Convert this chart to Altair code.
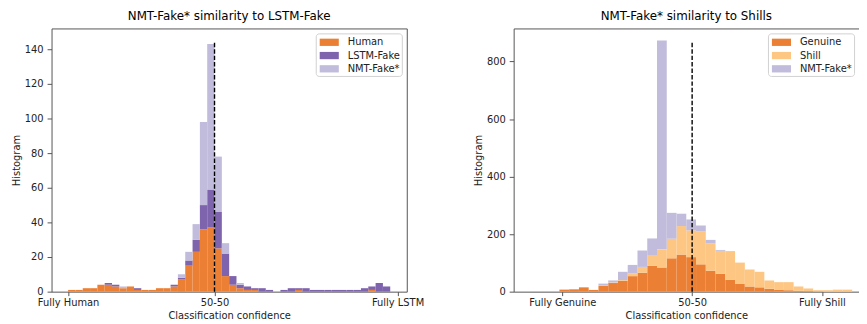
import altair as alt
import pandas as pd

FONT = "DejaVu Sans"

# ---------------- Left panel data (stacked histogram, 44 bins) ----------------
left_series = ["Human", "LSTM-Fake", "NMT-Fake*"]
left_colors = ["#EB8034", "#7E63AD", "#C1BCDB"]
left_bins = list(range(44))  # bin index (left edge); each bin is 1 unit wide
left_human = [1, 1, 2, 2, 4, 4, 3, 2, 3, 1, 1, 1, 2, 2, 3, 7, 15, 23, 36, 37, 25, 9,
              4, 2, 1, 1, 0, 0, 0, 0, 0, 1, 0, 0, 0, 0, 0, 0, 0, 0, 0, 1, 0, 0]
left_lstm = [0, 0, 0, 0, 0, 1, 1, 0, 0, 1, 0, 0, 0, 0, 1, 1, 3, 7, 14, 22, 21, 13,
             5, 2, 2, 1, 2, 1, 0, 1, 2, 1, 2, 1, 1, 1, 1, 1, 1, 1, 2, 2, 5, 3]
left_nmt = [0, 0, 0, 0, 0, 0, 0, 1, 0, 0, 0, 0, 0, 0, 0, 2, 5, 9, 48, 84, 32, 6,
            0, 1, 0, 0, 0, 0, 0, 0, 0, 0, 0, 0, 0, 0, 0, 0, 0, 0, 0, 0, 0, 0]
left_tick_pos = [0, 20, 45]
left_tick_labels = ["Fully Human", "50-50", "Fully LSTM"]
left_x_domain = [-2.26, 46.26]
left_y_domain = [0, 152]
left_y_ticks = [0, 20, 40, 60, 80, 100, 120, 140]
left_midline = {"x": 20, "y0": 0, "y1": 144.5}

# ---------------- Right panel data (stacked histogram, 30 bins) ----------------
right_series = ["Genuine", "Shill", "NMT-Fake*"]
right_colors = ["#EB8034", "#FDC682", "#C1BCDB"]
right_bins = list(range(30))
right_genuine = [7, 8, 15, 6, 21, 30, 37, 54, 66, 90, 84, 116, 129, 120, 95, 73, 62, 41,
                 28, 18, 15, 10, 7, 5, 3, 2, 1, 0, 0, 0]
right_shill = [1, 1, 0, 0, 2, 2, 3, 10, 20, 35, 63, 68, 99, 93, 114, 95, 80, 100,
               73, 59, 54, 29, 26, 28, 15, 9, 4, 5, 7, 7]
right_nmt = [0, 0, 0, 0, 5, 7, 29, 29, 57, 60, 726, 90, 43, 38, 21, 12, 3, 0,
             0, 0, 0, 0, 0, 0, 0, 0, 0, 0, 0, 0]
right_tick_pos = [0.3, 13.6, 26.9]
right_tick_labels = ["Fully Genuine", "50-50", "Fully Shill"]
right_x_domain = [-4.69, 30.7]
right_y_domain = [0, 915]
right_y_ticks = [0, 200, 400, 600, 800]
right_midline = {"x": 13.6, "y0": 0, "y1": 866}


def make_df(bins, series, values):
    rows = []
    for k, (name, vals) in enumerate(zip(series, values)):
        for b, v in zip(bins, vals):
            rows.append({"start": b, "end": b + 1, "series": name, "count": v, "k": k})
    return pd.DataFrame(rows)


def label_expr(pos, labels):
    expr = "''"
    for p, l in reversed(list(zip(pos, labels))):
        expr = f"abs(datum.value - {p}) < 0.01 ? '{l}' : ({expr})"
    return expr


SYMBOL = "M-0.667,-0.49H1.906V0.49H-0.667Z"


def panel(df, series, colors, tick_pos, tick_labels, x_domain, y_domain, y_ticks,
          midline, width, height, title, right_spine):
    xscale = alt.Scale(domain=x_domain, nice=False, zero=False)
    yscale = alt.Scale(domain=y_domain, nice=False, zero=True)
    bars = alt.Chart(df).transform_stack(
        stack="count", as_=["y0", "y1"], groupby=["start"],
        sort=[alt.SortField("k", order="ascending")],
    ).mark_bar(strokeWidth=0, opacity=1).encode(
        x=alt.X("start:Q", scale=xscale,
                axis=alt.Axis(values=tick_pos, labelExpr=label_expr(tick_pos, tick_labels),
                              title="Classification confidence", labelFlush=False,
                              labelOverlap=False, orient="bottom", labelPadding=2)),
        x2="end:Q",
        y=alt.Y("y0:Q", scale=yscale,
                axis=alt.Axis(values=y_ticks, title="Histogram", orient="left",
                              labelPadding=4, tickSize=4.5)),
        y2="y1:Q",
        color=alt.Color("series:N",
                        scale=alt.Scale(domain=series, range=colors),
                        legend=alt.Legend(title=None, orient="top-right", offset=5)),
    )
    mdf = pd.DataFrame([midline])
    if right_spine:
        yax = alt.Axis(orient="right", labels=False, ticks=False, title=None, domain=True)
    else:
        yax = None
    rule = alt.Chart(mdf).mark_rule(color="black", strokeDash=[4.5, 2], strokeWidth=1.4).encode(
        x=alt.X("x:Q", scale=xscale,
                axis=alt.Axis(orient="top", labels=False, ticks=False, title=None, domain=True)),
        y=alt.Y("y0:Q", scale=yscale, axis=yax),
        y2="y1:Q",
    )
    return alt.layer(bars, rule).resolve_axis(x="independent", y="independent").properties(
        width=width, height=height,
        title=alt.TitleParams(title, font=FONT, fontSize=12, fontWeight="normal",
                              color="black", anchor="middle", offset=6),
    )


left = panel(make_df(left_bins, left_series, [left_human, left_lstm, left_nmt]),
             left_series, left_colors, left_tick_pos, left_tick_labels,
             left_x_domain, left_y_domain, left_y_ticks, left_midline,
             359, 266, "NMT-Fake* similarity to LSTM-Fake", True)
right = panel(make_df(right_bins, right_series, [right_genuine, right_shill, right_nmt]),
              right_series, right_colors, right_tick_pos, right_tick_labels,
              right_x_domain, right_y_domain, right_y_ticks, right_midline,
              349, 266, "NMT-Fake* similarity to Shills", False)

chart = alt.hconcat(left, right, spacing=108, bounds="flush").resolve_scale(
    color="independent", x="independent", y="independent"
).properties(
    padding={"left": 3, "top": 0, "right": 0, "bottom": 0}
).configure_view(strokeOpacity=0).configure_axis(
    grid=False, labelFont=FONT, titleFont=FONT, labelFontSize=10, titleFontSize=10,
    titleFontWeight="normal", labelColor="#222222", titleColor="#222222",
    domainColor="#555555", tickColor="#555555", domainWidth=1, tickWidth=1, tickSize=4,
    titlePadding=3,
).configure_legend(
    labelFont=FONT, labelFontSize=10, labelColor="#222222", fillColor="white",
    strokeColor="#d0d0d0", cornerRadius=3, padding=1.5, rowPadding=0.4,
    symbolType=SYMBOL, symbolSize=225, symbolStrokeWidth=0, symbolOpacity=1,
    labelOffset=15.8,
)

chart.save("out.html", embed_options={"renderer": "svg", "actions": False})
